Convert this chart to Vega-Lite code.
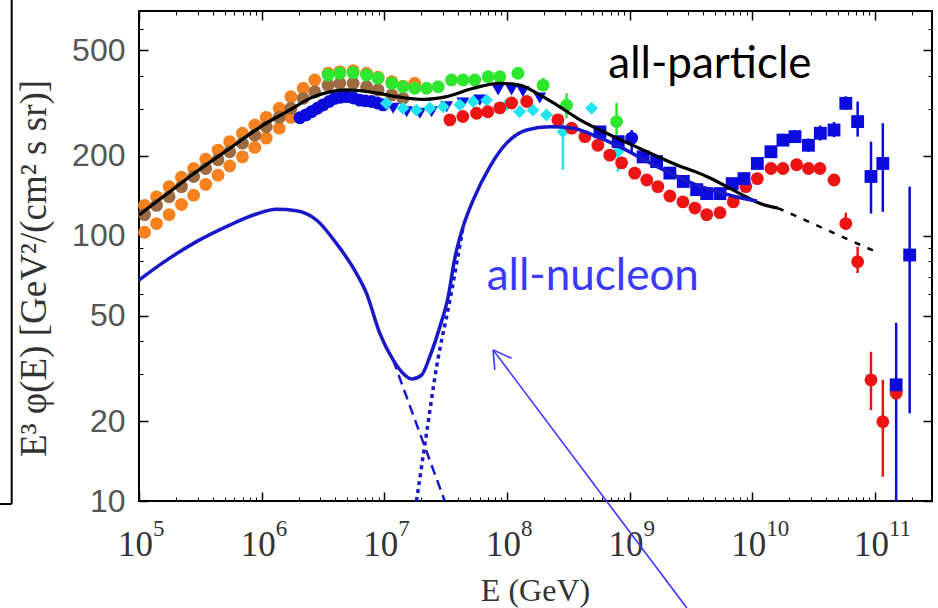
{
  "$schema": "https://vega.github.io/schema/vega-lite/v6.json",
  "width": 793,
  "height": 490,
  "autosize": {"type": "none"},
  "padding": {"left": 139, "top": 11, "right": 6, "bottom": 107},
  "background": "white",
  "config": {
    "view": {"stroke": "#000", "strokeWidth": 2},
    "axis": {"domain": false, "grid": false, "tickColor": "#000", "tickWidth": 1.5, "labelOverlap": false, "labelBound": false, "labelFlush": false}
  },
  "datasets": {
    "pts": [
      {"s": "orange", "E": 1.11e5, "v": 103}, {"s": "orange", "E": 1.39e5, "v": 111}, {"s": "orange", "E": 1.76e5, "v": 120}, {"s": "orange", "E": 2.22e5, "v": 131}, {"s": "orange", "E": 2.79e5, "v": 142}, {"s": "orange", "E": 3.5e5, "v": 156}, {"s": "orange", "E": 4.41e5, "v": 169}, {"s": "orange", "E": 5.49e5, "v": 183}, {"s": "orange", "E": 6.97e5, "v": 198}, {"s": "orange", "E": 8.79e5, "v": 215}, {"s": "orange", "E": 1.09e6, "v": 233}, {"s": "orange", "E": 1.39e6, "v": 254}, {"s": "orange", "E": 1.73e6, "v": 279},
      {"s": "orange", "E": 1.11e5, "v": 130}, {"s": "orange", "E": 1.39e5, "v": 140}, {"s": "orange", "E": 1.76e5, "v": 153}, {"s": "orange", "E": 2.22e5, "v": 166}, {"s": "orange", "E": 2.79e5, "v": 179}, {"s": "orange", "E": 3.5e5, "v": 194}, {"s": "orange", "E": 4.41e5, "v": 210}, {"s": "orange", "E": 5.49e5, "v": 226}, {"s": "orange", "E": 6.97e5, "v": 243}, {"s": "orange", "E": 8.79e5, "v": 261}, {"s": "orange", "E": 1.09e6, "v": 279}, {"s": "orange", "E": 1.39e6, "v": 302}, {"s": "orange", "E": 1.73e6, "v": 334}, {"s": "orange", "E": 2.18e6, "v": 359}, {"s": "orange", "E": 2.71e6, "v": 386}, {"s": "orange", "E": 3.48e6, "v": 409}, {"s": "orange", "E": 4.34e6, "v": 415}, {"s": "orange", "E": 5.57e6, "v": 418}, {"s": "orange", "E": 7.17e6, "v": 409}, {"s": "orange", "E": 8.9e6, "v": 395}, {"s": "orange", "E": 1.15e7, "v": 380}, {"s": "orange", "E": 1.42e7, "v": 366}, {"s": "orange", "E": 1.77e7, "v": 375},
      {"s": "brown", "E": 1.11e5, "v": 120}, {"s": "brown", "E": 1.39e5, "v": 130}, {"s": "brown", "E": 1.76e5, "v": 140}, {"s": "brown", "E": 2.22e5, "v": 153}, {"s": "brown", "E": 2.79e5, "v": 167}, {"s": "brown", "E": 3.5e5, "v": 179}, {"s": "brown", "E": 4.41e5, "v": 193}, {"s": "brown", "E": 5.49e5, "v": 207}, {"s": "brown", "E": 6.97e5, "v": 223}, {"s": "brown", "E": 8.79e5, "v": 239}, {"s": "brown", "E": 1.09e6, "v": 257}, {"s": "brown", "E": 1.39e6, "v": 279}, {"s": "brown", "E": 1.73e6, "v": 302}, {"s": "brown", "E": 2.18e6, "v": 329}, {"s": "brown", "E": 2.71e6, "v": 348}, {"s": "brown", "E": 3.48e6, "v": 369}, {"s": "brown", "E": 4.34e6, "v": 375}, {"s": "brown", "E": 5.57e6, "v": 375}, {"s": "brown", "E": 7.17e6, "v": 364}, {"s": "brown", "E": 8.9e6, "v": 354}, {"s": "brown", "E": 1.15e7, "v": 339}, {"s": "brown", "E": 1.42e7, "v": 329},
      {"s": "green", "E": 3.48e6, "v": 403}, {"s": "green", "E": 4.34e6, "v": 409}, {"s": "green", "E": 5.57e6, "v": 411}, {"s": "green", "E": 7.17e6, "v": 403}, {"s": "green", "E": 8.9e6, "v": 392}, {"s": "green", "E": 1.15e7, "v": 375}, {"s": "green", "E": 1.42e7, "v": 364}, {"s": "green", "E": 1.77e7, "v": 359}, {"s": "green", "E": 2.21e7, "v": 359}, {"s": "green", "E": 2.75e7, "v": 364}, {"s": "green", "E": 3.53e7, "v": 386}, {"s": "green", "E": 4.39e7, "v": 386}, {"s": "green", "E": 5.47e7, "v": 386}, {"s": "green", "E": 7.03e7, "v": 397}, {"s": "green", "E": 8.75e7, "v": 397}, {"s": "green", "E": 1.23e8, "v": 409}, {"s": "green", "E": 1.97e8, "v": 369}, {"s": "green", "E": 3.06e8, "v": 310}, {"s": "green", "E": 7.83e8, "v": 269},
      {"s": "bluecirc", "E": 2.05e6, "v": 278}, {"s": "bluecirc", "E": 2.3e6, "v": 285}, {"s": "bluecirc", "E": 2.55e6, "v": 293}, {"s": "bluecirc", "E": 2.85e6, "v": 302}, {"s": "bluecirc", "E": 3.17e6, "v": 311}, {"s": "bluecirc", "E": 3.55e6, "v": 320}, {"s": "bluecirc", "E": 3.94e6, "v": 329}, {"s": "bluecirc", "E": 4.4e6, "v": 332}, {"s": "bluecirc", "E": 4.92e6, "v": 334}, {"s": "bluecirc", "E": 5.6e6, "v": 330}, {"s": "bluecirc", "E": 6.31e6, "v": 324}, {"s": "bluecirc", "E": 7.0e6, "v": 322}, {"s": "bluecirc", "E": 7.87e6, "v": 320}, {"s": "bluecirc", "E": 8.8e6, "v": 316}, {"s": "bluecirc", "E": 9.78e6, "v": 311}, {"s": "bluecirc", "E": 1.04e9, "v": 233},
      {"s": "bluetri", "E": 1.18e7, "v": 302}, {"s": "bluetri", "E": 1.52e7, "v": 293}, {"s": "bluetri", "E": 1.95e7, "v": 289}, {"s": "bluetri", "E": 2.43e7, "v": 293}, {"s": "bluetri", "E": 3.22e7, "v": 306}, {"s": "bluetri", "E": 4.37e7, "v": 316}, {"s": "bluetri", "E": 6.01e7, "v": 324}, {"s": "bluetri", "E": 8.47e7, "v": 354}, {"s": "bluetri", "E": 1.09e8, "v": 354}, {"s": "bluetri", "E": 1.35e8, "v": 349}, {"s": "bluetri", "E": 1.85e8, "v": 330},
      {"s": "cyan", "E": 1.04e7, "v": 315}, {"s": "cyan", "E": 1.42e7, "v": 302}, {"s": "cyan", "E": 1.83e7, "v": 297}, {"s": "cyan", "E": 2.35e7, "v": 302}, {"s": "cyan", "E": 3.02e7, "v": 306}, {"s": "cyan", "E": 4.13e7, "v": 311}, {"s": "cyan", "E": 5.3e7, "v": 320}, {"s": "cyan", "E": 6.82e7, "v": 324}, {"s": "cyan", "E": 9.93e7, "v": 311}, {"s": "cyan", "E": 1.27e8, "v": 293}, {"s": "cyan", "E": 1.63e8, "v": 297}, {"s": "cyan", "E": 2.1e8, "v": 285}, {"s": "cyan", "E": 2.86e8, "v": 246}, {"s": "cyan", "E": 4.9e8, "v": 302}, {"s": "cyan", "E": 8.04e8, "v": 207},
      {"s": "red", "E": 3.42e7, "v": 273}, {"s": "red", "E": 4.37e7, "v": 281}, {"s": "red", "E": 5.65e7, "v": 289}, {"s": "red", "E": 6.98e7, "v": 293}, {"s": "red", "E": 8.75e7, "v": 303}, {"s": "red", "E": 1.09e8, "v": 316}, {"s": "red", "E": 1.45e8, "v": 320}, {"s": "red", "E": 2.6e8, "v": 273}, {"s": "red", "E": 3.37e8, "v": 254}, {"s": "red", "E": 4.32e8, "v": 236}, {"s": "red", "E": 5.51e8, "v": 219}, {"s": "red", "E": 6.9e8, "v": 201}, {"s": "red", "E": 8.6e8, "v": 188}, {"s": "red", "E": 1.1e9, "v": 172}, {"s": "red", "E": 1.38e9, "v": 162}, {"s": "red", "E": 1.7e9, "v": 153}, {"s": "red", "E": 2.13e9, "v": 141}, {"s": "red", "E": 2.72e9, "v": 134}, {"s": "red", "E": 3.41e9, "v": 127}, {"s": "red", "E": 4.25e9, "v": 120}, {"s": "red", "E": 5.45e9, "v": 122}, {"s": "red", "E": 7.0e9, "v": 134}, {"s": "red", "E": 8.85e9, "v": 153}, {"s": "red", "E": 1.1e10, "v": 164}, {"s": "red", "E": 1.42e10, "v": 179}, {"s": "red", "E": 1.78e10, "v": 179}, {"s": "red", "E": 2.3e10, "v": 185}, {"s": "red", "E": 2.87e10, "v": 179}, {"s": "red", "E": 3.56e10, "v": 179}, {"s": "red", "E": 4.64e10, "v": 162}, {"s": "red", "E": 5.79e10, "v": 111}, {"s": "red", "E": 7.23e10, "v": 79.7}, {"s": "red", "E": 9.29e10, "v": 28.6}, {"s": "red", "E": 1.16e11, "v": 19.9}, {"s": "red", "E": 1.49e11, "v": 25.5},
      {"s": "bluesq", "E": 5.73e8, "v": 246}, {"s": "bluesq", "E": 8.07e8, "v": 226}, {"s": "bluesq", "E": 1.29e9, "v": 198}, {"s": "bluesq", "E": 1.66e9, "v": 190}, {"s": "bluesq", "E": 2.13e9, "v": 172}, {"s": "bluesq", "E": 2.74e9, "v": 160}, {"s": "bluesq", "E": 3.52e9, "v": 149}, {"s": "bluesq", "E": 4.25e9, "v": 144}, {"s": "bluesq", "E": 5.45e9, "v": 144}, {"s": "bluesq", "E": 6.86e9, "v": 157}, {"s": "bluesq", "E": 8.55e9, "v": 164}, {"s": "bluesq", "E": 1.1e10, "v": 187}, {"s": "bluesq", "E": 1.42e10, "v": 207}, {"s": "bluesq", "E": 1.78e10, "v": 229}, {"s": "bluesq", "E": 2.23e10, "v": 236}, {"s": "bluesq", "E": 2.87e10, "v": 219}, {"s": "bluesq", "E": 3.59e10, "v": 243}, {"s": "bluesq", "E": 4.64e10, "v": 250}, {"s": "bluesq", "E": 5.79e10, "v": 315}, {"s": "bluesq", "E": 7.23e10, "v": 269}, {"s": "bluesq", "E": 9.29e10, "v": 167}, {"s": "bluesq", "E": 1.16e11, "v": 187}, {"s": "bluesq", "E": 1.49e11, "v": 27.4}, {"s": "bluesq", "E": 1.92e11, "v": 84.5}
    ],
    "err": [
      {"s": "green", "E": 1.97e8, "lo": 354, "hi": 393}, {"s": "green", "E": 3.06e8, "lo": 277, "hi": 344}, {"s": "green", "E": 7.83e8, "lo": 239, "hi": 316},
      {"s": "cyan", "E": 2.86e8, "lo": 177, "hi": 273}, {"s": "cyan", "E": 8.04e8, "lo": 174, "hi": 229},
      {"s": "bluecirc", "E": 1.04e9, "lo": 205, "hi": 250},
      {"s": "red", "E": 5.79e10, "lo": 105, "hi": 122}, {"s": "red", "E": 7.23e10, "lo": 72.3, "hi": 90.8}, {"s": "red", "E": 9.29e10, "lo": 22.0, "hi": 36.5}, {"s": "red", "E": 1.16e11, "lo": 12.35, "hi": 28.6},
      {"s": "bluesq", "E": 1.42e10, "lo": 197, "hi": 218}, {"s": "bluesq", "E": 1.78e10, "lo": 218, "hi": 242}, {"s": "bluesq", "E": 2.23e10, "lo": 224, "hi": 250}, {"s": "bluesq", "E": 2.87e10, "lo": 207, "hi": 232}, {"s": "bluesq", "E": 3.59e10, "lo": 228, "hi": 260}, {"s": "bluesq", "E": 4.64e10, "lo": 235, "hi": 268}, {"s": "bluesq", "E": 5.79e10, "lo": 298, "hi": 335}, {"s": "bluesq", "E": 7.23e10, "lo": 236, "hi": 320}, {"s": "bluesq", "E": 9.29e10, "lo": 121, "hi": 226}, {"s": "bluesq", "E": 1.16e11, "lo": 123, "hi": 265}, {"s": "bluesq", "E": 1.49e11, "lo": 10, "hi": 46.9}, {"s": "bluesq", "E": 1.92e11, "lo": 21.4, "hi": 153}
    ],
    "curves": [
      {"c": "black", "E": 1e5, "v": 119.6}, {"c": "black", "E": 1.57e5, "v": 140}, {"c": "black", "E": 2.94e5, "v": 174}, {"c": "black", "E": 5.49e5, "v": 213}, {"c": "black", "E": 1.03e6, "v": 261}, {"c": "black", "E": 1.69e6, "v": 297}, {"c": "black", "E": 2.47e6, "v": 329}, {"c": "black", "E": 3.59e6, "v": 348}, {"c": "black", "E": 4.92e6, "v": 354}, {"c": "black", "E": 7.62e6, "v": 348}, {"c": "black", "E": 1.26e7, "v": 334}, {"c": "black", "E": 2.07e7, "v": 326}, {"c": "black", "E": 3.22e7, "v": 334}, {"c": "black", "E": 5.3e7, "v": 359}, {"c": "black", "E": 8.75e7, "v": 375}, {"c": "black", "E": 1.27e8, "v": 369}, {"c": "black", "E": 1.85e8, "v": 339}, {"c": "black", "E": 2.54e8, "v": 311}, {"c": "black", "E": 3.94e8, "v": 273}, {"c": "black", "E": 6.49e8, "v": 243}, {"c": "black", "E": 1.21e9, "v": 213}, {"c": "black", "E": 2.27e9, "v": 187}, {"c": "black", "E": 4.25e9, "v": 167}, {"c": "black", "E": 7.94e9, "v": 144}, {"c": "black", "E": 1.16e10, "v": 132}, {"c": "black", "E": 1.62e10, "v": 127},
      {"c": "blackdash", "E": 1.62e10, "v": 127}, {"c": "blackdash", "E": 1.02e11, "v": 86.9},
      {"c": "blue", "E": 1e5, "v": 68}, {"c": "blue", "E": 1.57e5, "v": 79.1}, {"c": "blue", "E": 2.94e5, "v": 94.9}, {"c": "blue", "E": 5.49e5, "v": 109.6}, {"c": "blue", "E": 9.07e5, "v": 120.6}, {"c": "blue", "E": 1.32e6, "v": 125.6}, {"c": "blue", "E": 1.92e6, "v": 124.1}, {"c": "blue", "E": 2.8e6, "v": 114.5}, {"c": "blue", "E": 4.07e6, "v": 93.5}, {"c": "blue", "E": 5.93e6, "v": 72}, {"c": "blue", "E": 7.16e6, "v": 60.6}, {"c": "blue", "E": 9.19e6, "v": 42.8}, {"c": "blue", "E": 1.18e7, "v": 34}, {"c": "blue", "E": 1.47e7, "v": 29.8}, {"c": "blue", "E": 1.67e7, "v": 28.8}, {"c": "blue", "E": 2.01e7, "v": 29.8}, {"c": "blue", "E": 2.35e7, "v": 35}, {"c": "blue", "E": 2.84e7, "v": 45.4}, {"c": "blue", "E": 3.3e7, "v": 58.2}, {"c": "blue", "E": 3.76e7, "v": 82.3}, {"c": "blue", "E": 4.39e7, "v": 108}, {"c": "blue", "E": 5.3e7, "v": 136}, {"c": "blue", "E": 7.26e7, "v": 182}, {"c": "blue", "E": 9.93e7, "v": 223}, {"c": "blue", "E": 1.45e8, "v": 250}, {"c": "blue", "E": 2.24e8, "v": 257}, {"c": "blue", "E": 3.47e8, "v": 254}, {"c": "blue", "E": 5.05e8, "v": 239}, {"c": "blue", "E": 8.34e8, "v": 216}, {"c": "blue", "E": 1.56e9, "v": 185}, {"c": "blue", "E": 3.3e9, "v": 157}, {"c": "blue", "E": 6.58e9, "v": 142}, {"c": "blue", "E": 1.09e10, "v": 135},
      {"c": "bluedash", "E": 1.18e7, "v": 34}, {"c": "bluedash", "E": 1.95e7, "v": 18}, {"c": "bluedash", "E": 3.11e7, "v": 10},
      {"c": "bluedot", "E": 1.83e7, "v": 10}, {"c": "bluedot", "E": 2.21e7, "v": 18}, {"c": "bluedot", "E": 2.67e7, "v": 32.1}, {"c": "bluedot", "E": 3.43e7, "v": 57.2}, {"c": "bluedot", "E": 4.39e7, "v": 108}
    ],
    "arrow": [
      {"E": 7.71e7, "v": 37.1, "E2": 2.93e9, "v2": 3.95},
      {"E": 7.71e7, "v": 37.1, "E2": 1.09e8, "v2": 34.5},
      {"E": 7.71e7, "v": 37.1, "E2": 7.96e7, "v2": 31.2}
    ],
    "edge": [
      {"E": 9160, "v": 9.74, "E2": 9160, "v2": 773},
      {"E": 7310, "v": 9.74, "E2": 9160, "v2": 9.74}
    ],
    "exps": [
      {"E": 1e5, "t": "5"}, {"E": 1e6, "t": "6"}, {"E": 1e7, "t": "7"}, {"E": 1e8, "t": "8"}, {"E": 1e9, "t": "9"}, {"E": 1e10, "t": "10"}, {"E": 1e11, "t": "11"}
    ]
  },
  "encoding": {
    "x": {"field": "E", "type": "quantitative", "scale": {"type": "log", "domain": [1e5, 2.92e11], "nice": false}, "axis": null},
    "y": {"field": "v", "type": "quantitative", "scale": {"type": "log", "domain": [10, 702], "nice": false}, "axis": null}
  },
  "resolve": {"axis": {"x": "independent", "y": "independent"}},
  "layer": [
    {
      "data": {"name": "edge"},
      "mark": {"type": "rule", "color": "#000", "strokeWidth": 2, "clip": false},
      "encoding": {"x2": {"field": "E2"}, "y2": {"field": "v2"}}
    },
    {
      "data": {"name": "err"},
      "mark": {"type": "rule", "strokeWidth": 2.5},
      "encoding": {
        "y": {"field": "lo", "type": "quantitative", "scale": {"type": "log", "domain": [10, 702], "nice": false}, "axis": null},
        "y2": {"field": "hi"},
        "color": {"field": "s", "type": "nominal", "legend": null,
          "scale": {"domain": ["orange", "brown", "green", "bluecirc", "bluetri", "cyan", "red", "bluesq"], "range": ["#f5821f", "#9c6b42", "#2ee62e", "#0b0bde", "#0b0bde", "#22e3f2", "#ee1414", "#0b0bde"]}}
      }
    },
    {
      "data": {"name": "pts"},
      "mark": {"type": "point", "filled": true, "opacity": 1},
      "encoding": {
        "x": {"field": "E", "type": "quantitative", "scale": {"type": "log", "domain": [1e5, 2.92e11], "nice": false},
          "axis": {"orient": "bottom", "values": [1e5, 1e6, 1e7, 1e8, 1e9, 1e10, 1e11], "tickSize": -9,
            "labelExpr": "'10'", "labelOffset": -4,
            "labelFont": "Liberation Serif", "labelFontSize": 35, "labelColor": "#333", "labelPadding": 63, "labelBaseline": "alphabetic",
            "title": "E  (GeV)", "titleFont": "Liberation Serif", "titleFontSize": 32, "titleFontWeight": "normal", "titleColor": "#333",
            "titleX": 396, "titleY": 89, "titleBaseline": "middle", "titleAlign": "center"}
        },
        "y": {"field": "v", "type": "quantitative", "scale": {"type": "log", "domain": [10, 702], "nice": false},
          "axis": {"orient": "left", "values": [10, 20, 50, 100, 200, 500], "tickSize": -9, "format": "d",
            "labelFont": "Liberation Sans", "labelFontSize": 32, "labelColor": "#555", "labelPadding": 23, "labelBaseline": "middle",
            "title": "E³  φ(E)   [GeV²/(cm² s sr)]", "titleFont": "Liberation Serif", "titleFontSize": 37, "titleFontWeight": "normal", "titleColor": "#333",
            "titleAngle": -90, "titleX": -105, "titleY": 257, "titleBaseline": "middle", "titleAlign": "center"}
        },
        "color": {"field": "s", "type": "nominal", "legend": null,
          "scale": {"domain": ["orange", "brown", "green", "bluecirc", "bluetri", "cyan", "red", "bluesq"], "range": ["#f5821f", "#9c6b42", "#2ee62e", "#0b0bde", "#0b0bde", "#22e3f2", "#ee1414", "#0b0bde"]}},
        "shape": {"field": "s", "type": "nominal", "legend": null,
          "scale": {"domain": ["orange", "brown", "green", "bluecirc", "bluetri", "cyan", "red", "bluesq"], "range": ["circle", "circle", "circle", "circle", "triangle-down", "diamond", "circle", "square"]}},
        "size": {"field": "s", "type": "nominal", "legend": null,
          "scale": {"domain": ["orange", "brown", "green", "bluecirc", "bluetri", "cyan", "red", "bluesq"], "range": [165, 165, 165, 165, 140, 230, 165, 150]}}
      }
    },
    {
      "data": {"name": "curves"},
      "transform": [{"filter": "datum.c == 'black'"}],
      "mark": {"type": "line", "color": "#000", "strokeWidth": 3.2, "interpolate": "monotone"},
      "encoding": {
        "x": {"field": "E", "type": "quantitative", "scale": {"type": "log", "domain": [1e5, 2.92e11], "nice": false},
          "axis": {"orient": "top", "labels": false, "title": null, "tickSize": -9, "values": [1e5, 1e6, 1e7, 1e8, 1e9, 1e10, 1e11]}},
        "y": {"field": "v", "type": "quantitative", "scale": {"type": "log", "domain": [10, 702], "nice": false},
          "axis": {"orient": "right", "labels": false, "title": null, "tickSize": -9, "values": [10, 20, 50, 100, 200, 500]}}
      }
    },
    {
      "data": {"name": "curves"},
      "transform": [{"filter": "datum.c == 'blackdash'"}],
      "mark": {"type": "line", "color": "#000", "strokeWidth": 2.5, "strokeDash": [6, 8]},
      "encoding": {
        "x": {"field": "E", "type": "quantitative", "scale": {"type": "log", "domain": [1e5, 2.92e11], "nice": false},
          "axis": {"orient": "top", "labels": false, "title": null, "tickSize": -4, "tickWidth": 1,
            "values": [2e5, 3e5, 4e5, 5e5, 6e5, 7e5, 8e5, 9e5, 2e6, 3e6, 4e6, 5e6, 6e6, 7e6, 8e6, 9e6, 2e7, 3e7, 4e7, 5e7, 6e7, 7e7, 8e7, 9e7, 2e8, 3e8, 4e8, 5e8, 6e8, 7e8, 8e8, 9e8, 2e9, 3e9, 4e9, 5e9, 6e9, 7e9, 8e9, 9e9, 2e10, 3e10, 4e10, 5e10, 6e10, 7e10, 8e10, 9e10, 2e11]}},
        "y": {"field": "v", "type": "quantitative", "scale": {"type": "log", "domain": [10, 702], "nice": false},
          "axis": {"orient": "right", "labels": false, "title": null, "tickSize": -4, "tickWidth": 1, "values": [30, 40, 60, 70, 80, 90, 300, 400, 600, 700]}}
      }
    },
    {
      "data": {"name": "curves"},
      "transform": [{"filter": "datum.c == 'blue'"}],
      "mark": {"type": "line", "color": "#1818c8", "strokeWidth": 3.5, "interpolate": "monotone"},
      "encoding": {
        "x": {"field": "E", "type": "quantitative", "scale": {"type": "log", "domain": [1e5, 2.92e11], "nice": false},
          "axis": {"orient": "bottom", "labels": false, "title": null, "tickSize": -4, "tickWidth": 1,
            "values": [2e5, 3e5, 4e5, 5e5, 6e5, 7e5, 8e5, 9e5, 2e6, 3e6, 4e6, 5e6, 6e6, 7e6, 8e6, 9e6, 2e7, 3e7, 4e7, 5e7, 6e7, 7e7, 8e7, 9e7, 2e8, 3e8, 4e8, 5e8, 6e8, 7e8, 8e8, 9e8, 2e9, 3e9, 4e9, 5e9, 6e9, 7e9, 8e9, 9e9, 2e10, 3e10, 4e10, 5e10, 6e10, 7e10, 8e10, 9e10, 2e11]}},
        "y": {"field": "v", "type": "quantitative", "scale": {"type": "log", "domain": [10, 702], "nice": false},
          "axis": {"orient": "left", "labels": false, "title": null, "tickSize": -4, "tickWidth": 1, "values": [30, 40, 60, 70, 80, 90, 300, 400, 600, 700]}}
      }
    },
    {
      "data": {"name": "curves"},
      "transform": [{"filter": "datum.c == 'bluedash'"}],
      "mark": {"type": "line", "color": "#1818c8", "strokeWidth": 2.5, "strokeDash": [10, 6], "interpolate": "monotone"},
      "encoding": {}
    },
    {
      "data": {"name": "curves"},
      "transform": [{"filter": "datum.c == 'bluedot'"}],
      "mark": {"type": "line", "color": "#1818c8", "strokeWidth": 3.5, "strokeDash": [4, 4], "interpolate": "monotone"},
      "encoding": {}
    },
    {
      "data": {"name": "exps"},
      "mark": {"type": "text", "font": "Liberation Serif", "fontSize": 23, "color": "#333", "align": "left", "baseline": "alphabetic", "dx": 14, "dy": 35},
      "encoding": {"y": {"value": "height"}, "text": {"field": "t"}}
    },
    {
      "data": {"values": [{"t": "all-particle", "E": 4.52e9, "v": 393}]},
      "mark": {"type": "text", "font": "Lato", "fontSize": 44, "color": "#000", "align": "center", "baseline": "alphabetic"},
      "encoding": {"text": {"field": "t"}}
    },
    {
      "data": {"values": [{"t": "all-nucleon", "E": 5.01e8, "v": 62.4}]},
      "mark": {"type": "text", "font": "Lato", "fontSize": 44, "color": "#3a3aff", "align": "center", "baseline": "alphabetic"},
      "encoding": {"text": {"field": "t"}}
    },
    {
      "data": {"name": "arrow"},
      "mark": {"type": "rule", "color": "#3a3aff", "strokeWidth": 1.6, "clip": false},
      "encoding": {"x2": {"field": "E2"}, "y2": {"field": "v2"}}
    }
  ]
}
